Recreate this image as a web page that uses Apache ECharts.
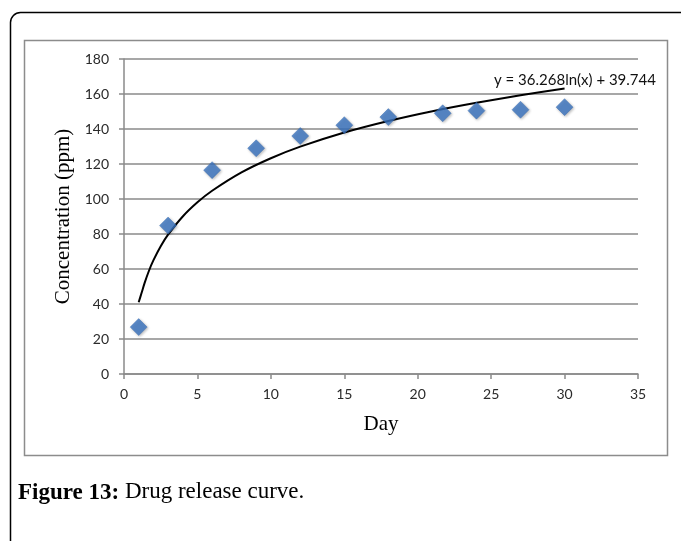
<!DOCTYPE html>
<html><head><meta charset="utf-8">
<script src="https://cdn.jsdelivr.net/npm/echarts@6/dist/echarts.min.js"></script>
<style>html,body{margin:0;padding:0;background:#fff;}#c{width:681px;height:541px;}</style>
</head><body><div id="c"></div>
<script>
const days = [1, 3, 6, 9, 12, 15, 18, 21.7, 24, 27, 30];
const concentration = [26.8, 84.8, 116.5, 129, 136, 142.2, 146.8, 149, 150.5, 151, 152.5];
// trendline (y = 36.268ln(x) + 39.744)
const trendX = [1, 1.2, 1.4, 1.7, 2, 2.5, 3, 4, 5, 6, 8, 10, 12, 15, 18, 21, 24, 27, 30];
const trendY = [41, 46.4, 51.9, 59, 64.9, 73, 79.6, 90, 98.1, 104.7, 115.2, 123.3, 129.9, 138, 144.6, 150.2, 155, 159.3, 163.1];
const xTicks = [0, 5, 10, 15, 20, 25, 30, 35];
const yTicks = [0, 20, 40, 60, 80, 100, 120, 140, 160, 180];
const equation = 'y = 36.268ln(x) + 39.744';
const caption = ['Figure 13:', ' Drug release curve.'];

const boldFont = 'bold 23px "Liberation Serif"';
const normFont = '23px "Liberation Serif"';
const mctx = document.createElement('canvas').getContext('2d');
mctx.font = boldFont;
const boldW = mctx.measureText(caption[0]).width;

const chart = echarts.init(document.getElementById('c'));
const grey = '#8a8a8a';
chart.setOption({
  animation: false,
  grid: {left: 124, right: 43, top: 59, bottom: 167},
  xAxis: {
    type: 'value', min: xTicks[0], max: xTicks[xTicks.length - 1], interval: 5,
    name: 'Day', nameLocation: 'middle', nameGap: 40,
    nameTextStyle: {fontFamily: 'Liberation Serif', fontSize: 21, color: '#000'},
    axisLine: {show: true, lineStyle: {color: grey, width: 1.5}},
    axisTick: {show: true, length: 5, lineStyle: {color: grey, width: 1.5}},
    axisLabel: {fontFamily: 'Lato', fontSize: 14, color: '#2a2a2a', margin: 13},
    splitLine: {show: false}
  },
  yAxis: {
    type: 'value', min: yTicks[0], max: yTicks[yTicks.length - 1], interval: 20,
    name: 'Concentration (ppm)', nameLocation: 'middle', nameGap: 45,
    nameTextStyle: {fontFamily: 'Liberation Serif', fontSize: 21, color: '#000'},
    axisLine: {show: true, lineStyle: {color: grey, width: 1.5}},
    axisTick: {show: true, length: 5, lineStyle: {color: grey, width: 1.5}},
    axisLabel: {fontFamily: 'Lato', fontSize: 14, color: '#2a2a2a', margin: 15},
    splitLine: {show: true, lineStyle: {color: grey, width: 1.5}}
  },
  series: [
    {
      type: 'line', data: trendX.map((x, i) => [x, trendY[i]]), smooth: 0.3,
      showSymbol: false, lineStyle: {color: '#000', width: 2}, z: 3
    },
    {
      type: 'scatter', data: days.map((d, i) => [d, concentration[i]]),
      symbol: 'diamond', symbolSize: [17, 17],
      itemStyle: {color: '#3a74c2', borderColor: '#3569b0', borderWidth: 0.5,
        shadowBlur: 3, shadowColor: 'rgba(0,0,0,0.35)', shadowOffsetX: 1, shadowOffsetY: 1},
      z: 4
    }
  ],
  graphic: [
    {type: 'rect', shape: {x: 24.5, y: 40.5, width: 643, height: 415}, style: {fill: 'none', stroke: '#8c8c8c', lineWidth: 1.5}, z: -1},
    {type: 'rect', shape: {x: 10.5, y: 12.5, width: 720, height: 600, r: 10}, style: {fill: 'none', stroke: '#000', lineWidth: 1.5}},
    {type: 'text', left: 494, top: 73, style: {text: equation, font: '15px Lato', fill: '#111'}, z: 10},
    {type: 'text', x: 18, y: 482, style: {text: caption[0], font: boldFont, fill: '#000'}},
    {type: 'text', x: 18 + boldW, y: 480, style: {text: caption[1], font: normFont, fill: '#000'}}
  ]
});
</script></body></html>
